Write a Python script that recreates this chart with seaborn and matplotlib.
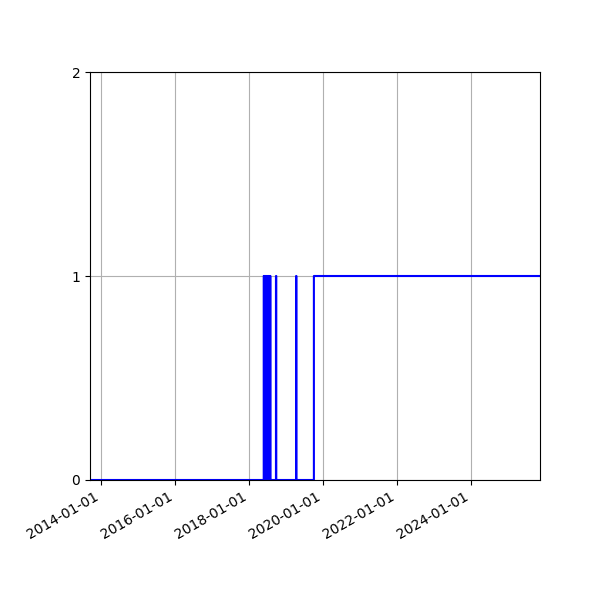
import pandas as pd
import matplotlib
matplotlib.use("Agg")
import matplotlib.pyplot as plt
import matplotlib.dates as mdates
import seaborn as sns

# time span shown and the periods where the flag was on (value 1)
start_date = "2013-09-12"
end_date = "2025-11-18"
on_starts = ["2018-05-27", "2018-06-03", "2018-06-10", "2018-06-17", "2018-06-24",
             "2018-07-01", "2018-07-08", "2018-07-15", "2018-07-22", "2018-07-29",
             "2018-09-25", "2019-04-12", "2019-10-05"]
on_ends = ["2018-05-29", "2018-06-05", "2018-06-12", "2018-06-19", "2018-06-26",
           "2018-07-03", "2018-07-10", "2018-07-17", "2018-07-24", "2018-07-31",
           "2018-09-27", "2019-04-14", "2025-11-18"]

days = pd.date_range(start_date, end_date, freq="D")
flag = pd.Series(0, index=days)
for s, e in zip(on_starts, on_ends):
    flag[s:e] = 1

df = pd.DataFrame({"date": days, "flag": flag.values})

fig, ax = plt.subplots(figsize=(6, 6), dpi=100)
sns.lineplot(data=df, x="date", y="flag", ax=ax, color="blue",
             drawstyle="steps-post", linewidth=1.5)
ax.set_xlim(pd.Timestamp(start_date), pd.Timestamp(end_date))
ax.set_ylim(0, 2)
ax.set_yticks([0, 1, 2])
ax.xaxis.set_major_locator(mdates.YearLocator(2))
ax.xaxis.set_major_formatter(mdates.DateFormatter("%Y-%m-%d"))
ax.set_xlabel("")
ax.set_ylabel("")
ax.grid(True)
fig.autofmt_xdate()
fig.subplots_adjust(left=0.15, right=0.9, top=0.88, bottom=0.2)
fig.savefig("out.png", dpi=100)
